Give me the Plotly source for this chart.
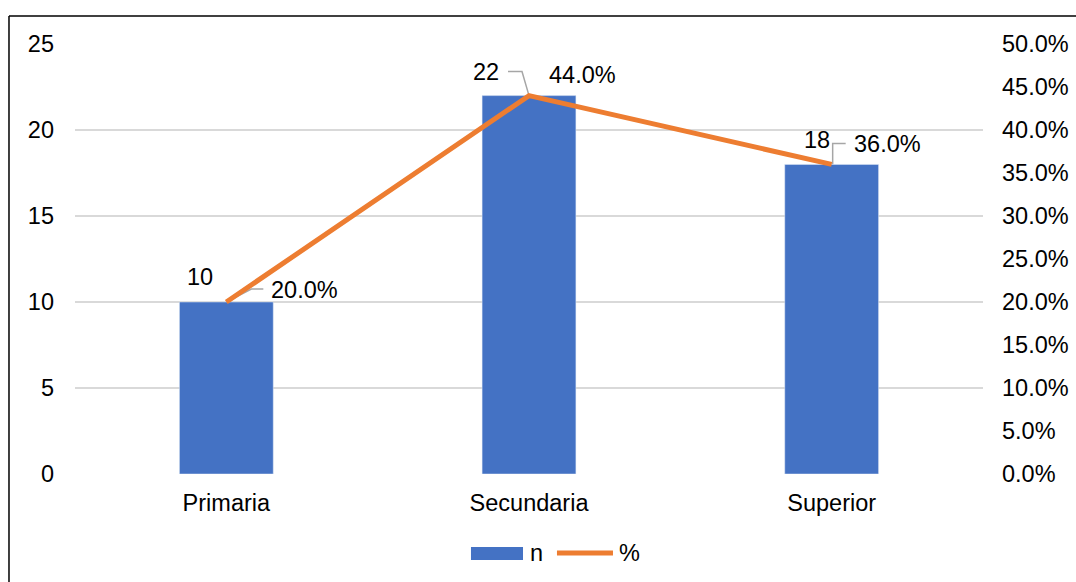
import plotly.graph_objects as go

categories = ["Primaria", "Secundaria", "Superior"]
n_values = [10, 22, 18]
pct_values = [20.0, 44.0, 36.0]
n_labels = ["10", "22", "18"]
pct_labels = ["20.0%", "44.0%", "36.0%"]
left_ticks = [0, 5, 10, 15, 20, 25]
right_ticks = [0, 5, 10, 15, 20, 25, 30, 35, 40, 45, 50]
right_tick_labels = [f"{v:.1f}%" for v in right_ticks]
legend_names = ["n", "%"]

FONT = "Liberation Sans, Arial, sans-serif"
FS = 23.5
BLUE = "#4472C4"
ORANGE = "#ED7D31"
GRID = "#D9D9D9"

fig = go.Figure()
fig.add_trace(go.Bar(x=categories, y=n_values, name=legend_names[0], marker_color=BLUE,
                     width=0.31, yaxis="y", showlegend=False))
fig.add_trace(go.Scatter(x=categories, y=pct_values, name=legend_names[1], mode="lines",
                         line=dict(color=ORANGE, width=5), yaxis="y2", showlegend=False))

# data labels (offsets in pixels)
n_off = [(-26, 25), (-43, 24), (-15, 24)]
p_off = [(78, 12), (53, 21), (56, 20)]
leaders = ["M 0,0 L 25,13 L 37,13", "M 0,0 L -7,24 L -21,24", "M 1,0 L 1,21 L 14,21"]
annotations = []
shapes = []
for i, c in enumerate(categories):
    annotations.append(dict(x=c, y=n_values[i], xref="x", yref="y", text=n_labels[i],
                            showarrow=False, xshift=n_off[i][0], yshift=n_off[i][1],
                            font=dict(family=FONT, size=FS, color="#000")))
    annotations.append(dict(x=c, y=pct_values[i], xref="x", yref="y2", text=pct_labels[i],
                            showarrow=False, xshift=p_off[i][0], yshift=p_off[i][1],
                            font=dict(family=FONT, size=FS, color="#000")))
    shapes.append(dict(type="path", xref="x", yref="y2", xsizemode="pixel", ysizemode="pixel",
                       xanchor=c, yanchor=pct_values[i], path=leaders[i],
                       line=dict(color="#A6A6A6", width=1.5), layer="below"))

# custom legend
shapes.append(dict(type="rect", xref="paper", yref="paper", x0=0.4361, x1=0.4934,
                   y0=-0.2, y1=-0.1698, fillcolor=BLUE, line=dict(width=0)))
shapes.append(dict(type="line", xref="paper", yref="paper", x0=0.5308, x1=0.5925,
                   y0=-0.1837, y1=-0.1837, line=dict(color=ORANGE, width=5)))
annotations.append(dict(x=0.4989, y=-0.1837, xref="paper", yref="paper", text=legend_names[0],
                        showarrow=False, xanchor="left", yanchor="middle",
                        font=dict(family=FONT, size=FS, color="#000")))
annotations.append(dict(x=0.5969, y=-0.1837, xref="paper", yref="paper", text=legend_names[1],
                        showarrow=False, xanchor="left", yanchor="middle",
                        font=dict(family=FONT, size=FS, color="#000")))

# outer frame (partially visible)
shapes.append(dict(type="line", xref="paper", yref="paper", x0=-0.0727, x1=-0.0727,
                   y0=1.0651, y1=-0.4, line=dict(color="#000", width=1.5)))
shapes.append(dict(type="line", xref="paper", yref="paper", x0=-0.0727, x1=1.3,
                   y0=1.0651, y1=1.0651, line=dict(color="#000", width=1.5)))

fig.update_layout(
    width=1076, height=582,
    margin=dict(l=75, r=93, t=44, b=108, autoexpand=False),
    paper_bgcolor="white", plot_bgcolor="white",
    font=dict(family=FONT, size=FS, color="#000"),
    showlegend=False,
    xaxis=dict(range=[-0.5, 2.5], showgrid=False, zeroline=False, showline=False,
               ticks="", tickfont=dict(size=FS), ticklabelstandoff=12, automargin=False),
    yaxis=dict(range=[0, 25], tickvals=left_ticks, showgrid=True, gridcolor=GRID,
               gridwidth=1.5, zeroline=False, showline=False, ticks="",
               ticklabelstandoff=20, automargin=False),
    yaxis2=dict(range=[0, 50], tickvals=right_ticks, ticktext=right_tick_labels,
                overlaying="y", side="right", showgrid=False, zeroline=False,
                showline=False, ticks="", ticklabelstandoff=18, automargin=False),
    annotations=annotations,
    shapes=shapes,
)

fig.write_html("out.html")
